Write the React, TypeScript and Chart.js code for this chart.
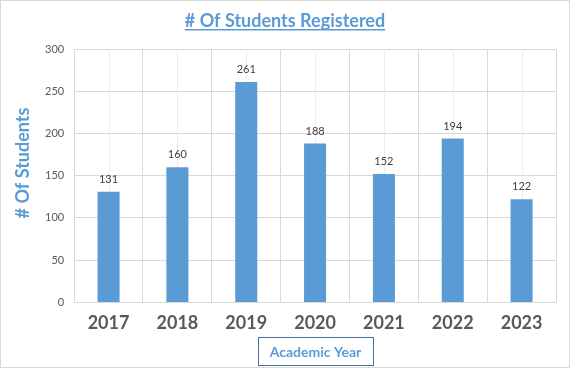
import { useEffect, useRef } from 'react';
import { Chart, registerables } from 'chart.js';

Chart.register(...registerables);

const years = ['2017', '2018', '2019', '2020', '2021', '2022', '2023'];
const students = [131, 160, 261, 188, 152, 194, 122];
const yMax = 300;
const yStep = 50;
const chartTitle = '# Of Students Registered';
const yAxisTitle = '# Of Students';
const xAxisTitle = 'Academic Year';

const BLUE = '#5b9bd5';
const FONT = 'Lato';

const decorPlugin = {
  id: 'decor',
  beforeDatasetsDraw(chart: any) {
    const { ctx, chartArea, scales } = chart;
    ctx.save();
    ctx.strokeStyle = '#ececec';
    ctx.lineWidth = 1;
    years.forEach((_, i) => {
      const x = Math.round(scales.x.getPixelForValue(i)) + 0.5;
      ctx.beginPath();
      ctx.moveTo(x, chartArea.top);
      ctx.lineTo(x, chartArea.bottom);
      ctx.stroke();
    });
    ctx.restore();
  },
  afterDatasetsDraw(chart: any) {
    const { ctx } = chart;
    const meta = chart.getDatasetMeta(0);
    ctx.save();
    ctx.fillStyle = '#404040';
    ctx.font = `11px ${FONT}`;
    ctx.textAlign = 'center';
    ctx.textBaseline = 'bottom';
    meta.data.forEach((bar: any, i: number) => {
      ctx.fillText(String(students[i]), bar.x, bar.y - 7);
    });
    ctx.restore();
  },
  afterDraw(chart: any) {
    const { ctx } = chart;
    ctx.save();
    // chart title
    ctx.font = `bold 18px ${FONT}`;
    ctx.fillStyle = BLUE;
    ctx.textAlign = 'center';
    ctx.textBaseline = 'alphabetic';
    const cx = 285;
    ctx.fillText(chartTitle, cx, 27);
    const w = ctx.measureText(chartTitle).width;
    ctx.fillRect(cx - w / 2, 29, w, 1.5);
    // y axis title
    ctx.save();
    ctx.translate(23, 163);
    ctx.rotate(-Math.PI / 2);
    ctx.textBaseline = 'middle';
    ctx.fillText(yAxisTitle, 0, 0);
    ctx.restore();
    // x axis title box
    ctx.strokeStyle = '#41719c';
    ctx.lineWidth = 1;
    ctx.strokeRect(258.5, 337.5, 115, 28);
    ctx.font = `bold 14px ${FONT}`;
    ctx.textBaseline = 'middle';
    ctx.fillText(xAxisTitle, 315.5, 352);
    ctx.restore();
  },
};

export default function App() {
  const ref = useRef<HTMLCanvasElement>(null);
  useEffect(() => {
    document.body.style.margin = '0';
    const chart = new Chart(ref.current!, {
      type: 'bar',
      data: {
        labels: years,
        datasets: [
          {
            data: students,
            backgroundColor: BLUE,
            barPercentage: 0.32,
            categoryPercentage: 1,
          },
        ],
      },
      options: {
        animation: false,
        responsive: false,
        layout: { padding: { left: 35, right: 15, top: 49, bottom: 25 } },
        plugins: { legend: { display: false }, tooltip: { enabled: false } },
        scales: {
          x: {
            grid: { color: '#d9d9d9', drawTicks: false },
            border: { color: '#d9d9d9' },
            ticks: {
              color: '#595959',
              font: { family: FONT, size: 18, weight: 'bold' },
              padding: 10,
            },
          },
          y: {
            min: 0,
            max: yMax,
            grid: { color: '#d9d9d9', drawTicks: false },
            border: { color: '#d9d9d9' },
            ticks: {
              stepSize: yStep,
              color: '#595959',
              font: { family: FONT, size: 11 },
              padding: 10,
            },
          },
        },
      },
      plugins: [decorPlugin],
    });
    return () => chart.destroy();
  }, []);
  return (
    <div style={{ position: 'relative', width: 571, height: 369 }}>
      <canvas ref={ref} width={571} height={369} style={{ display: 'block' }} />
      <div
        style={{
          position: 'absolute',
          left: 0,
          top: 0,
          width: 570,
          height: 368,
          border: '1px solid #d9d9d9',
          boxSizing: 'border-box',
          pointerEvents: 'none',
        }}
      />
    </div>
  );
}
